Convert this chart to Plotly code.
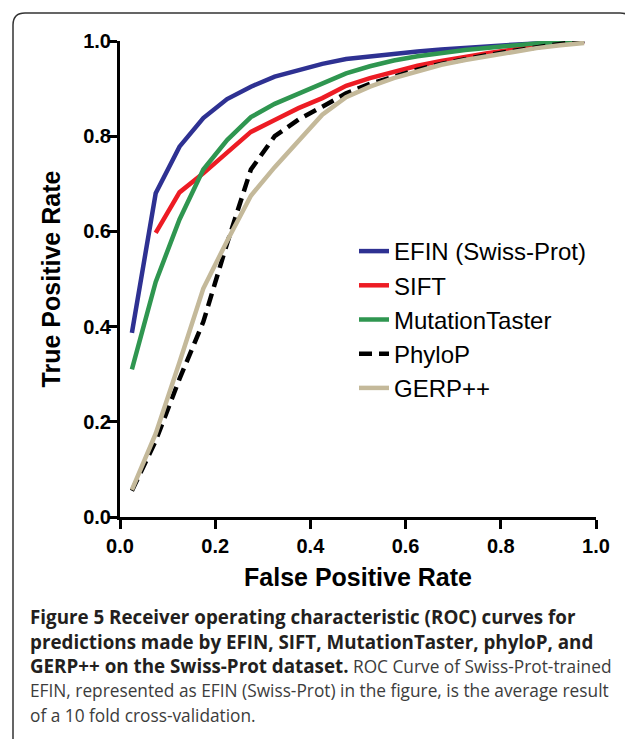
import plotly.graph_objects as go

# ---- data ----
fpr = [0.025, 0.075, 0.125, 0.175, 0.225, 0.275, 0.325, 0.375, 0.425, 0.475,
       0.525, 0.575, 0.625, 0.675, 0.725, 0.775, 0.825, 0.875, 0.925, 0.975]
efin_tpr = [0.387, 0.680, 0.778, 0.838, 0.878, 0.904, 0.925, 0.939, 0.952, 0.962,
            0.968, 0.973, 0.978, 0.982, 0.986, 0.989, 0.992, 0.995, 0.997, 1.0]
sift_fpr = fpr[1:]
sift_tpr = [0.597, 0.682, 0.722, 0.765, 0.809, 0.834, 0.859, 0.880, 0.906, 0.922,
            0.936, 0.948, 0.958, 0.967, 0.975, 0.982, 0.988, 0.994, 0.999]
mt_tpr = [0.31, 0.494, 0.625, 0.730, 0.792, 0.840, 0.868, 0.890, 0.911, 0.932,
          0.947, 0.959, 0.968, 0.975, 0.981, 0.986, 0.991, 0.995, 0.998, 1.0]
phylop_tpr = [0.055, 0.16, 0.29, 0.41, 0.575, 0.73, 0.80, 0.835, 0.862, 0.890,
              0.910, 0.926, 0.940, 0.952, 0.962, 0.971, 0.979, 0.987, 0.994, 1.0]
gerp_tpr = [0.057, 0.175, 0.325, 0.48, 0.58, 0.675, 0.735, 0.79, 0.845, 0.882,
            0.904, 0.922, 0.937, 0.950, 0.960, 0.969, 0.977, 0.985, 0.991, 0.996]

tick_vals = [0.0, 0.2, 0.4, 0.6, 0.8, 1.0]
tick_text = ["0.0", "0.2", "0.4", "0.6", "0.8", "1.0"]

BOLD = '<span style="font-size:18.8px;color:#231f20"><b>{}</b></span>'
caption_lines = [
    BOLD.format("Figure 5 Receiver operating characteristic (ROC) curves for"),
    BOLD.format("predictions made by EFIN, SIFT, MutationTaster, phyloP, and"),
    BOLD.format("GERP++ on the Swiss-Prot dataset.") + " ROC Curve of Swiss-Prot-trained",
    "EFIN, represented as EFIN (Swiss-Prot) in the figure, is the average result",
    "of a 10 fold cross-validation.",
]

# ---- layout geometry (page pixels; the page body has an 8px margin) ----
OFF = 8
W, H = 633 - OFF, 739 - OFF
L, R, T, B = 120, 596, 41, 517          # plot area in page pixels
pw, ph = R - L, B - T

def px_x(p):
    return (p - L) / pw

def px_y(p):
    return (B - p) / ph

series = [
    ("EFIN (Swiss-Prot)", fpr, efin_tpr, "#2e3192", "solid"),
    ("SIFT", sift_fpr, sift_tpr, "#ed1c24", "solid"),
    ("MutationTaster", fpr, mt_tpr, "#2f9650", "solid"),
    ("PhyloP", fpr, phylop_tpr, "#000000", "13px,7px"),
    ("GERP++", fpr, gerp_tpr, "#c4b99a", "solid"),
]

fig = go.Figure()
for name, xs, ys, col, dash in series:
    fig.add_trace(go.Scatter(
        x=xs, y=ys, mode="lines", name=name,
        line=dict(color=col, width=4.5, dash=dash),
        cliponaxis=False,
    ))

axis_common = dict(
    range=[0, 1], showline=True, linewidth=3, linecolor="black",
    ticks="outside", ticklen=9, tickwidth=3, tickcolor="black",
    tickvals=tick_vals, ticktext=tick_text,
    tickfont=dict(family="Liberation Sans, Arial", size=20, color="black", weight="bold"),
    showgrid=False, zeroline=False, mirror=False,
)

fig.update_layout(
    width=W, height=H,
    margin=dict(l=L - OFF, r=W - (R - OFF), t=T - OFF, b=H - (B - OFF), pad=0),
    paper_bgcolor="white", plot_bgcolor="white",
    xaxis=dict(**axis_common,
               title=dict(text="<b>False Positive Rate</b>", standoff=13,
                          font=dict(family="Liberation Sans, Arial", size=25, color="black"))),
    yaxis=dict(**axis_common, ticklabelstandoff=-7,
               title=dict(text="<b>True Positive Rate</b>", standoff=16,
                          font=dict(family="Liberation Sans, Arial", size=25, color="black"))),
    legend=dict(
        x=px_x(354), y=px_y(229), xanchor="left", yanchor="top",
        font=dict(family="Liberation Sans, Arial", size=24, color="black"),
        bgcolor="rgba(0,0,0,0)", borderwidth=0,
    ),
    showlegend=True,
)

# rounded frame around the figure
fl, ft, fr, fb = px_x(13), px_y(13), px_x(632), px_y(770)
rx, ry = 12 / pw, 12 / ph
path = (f"M{fl},{fb} L{fl},{ft - ry} Q{fl},{ft} {fl + rx},{ft} "
        f"L{fr - rx},{ft} Q{fr},{ft} {fr},{ft - ry} L{fr},{fb}")
fig.add_shape(type="path", xref="paper", yref="paper", path=path,
              line=dict(color="#333333", width=1.5), layer="below")

# caption
cap_y = [617, 641.5, 666, 690.5, 715]
for txt, yy in zip(caption_lines, cap_y):
    fig.add_annotation(
        text=txt, xref="paper", yref="paper", x=px_x(28), y=px_y(yy),
        xanchor="left", yanchor="middle", showarrow=False, align="left",
        font=dict(family="Open Sans", size=17.3, color="#3c3c3c"),
    )

fig.write_html("out.html")
